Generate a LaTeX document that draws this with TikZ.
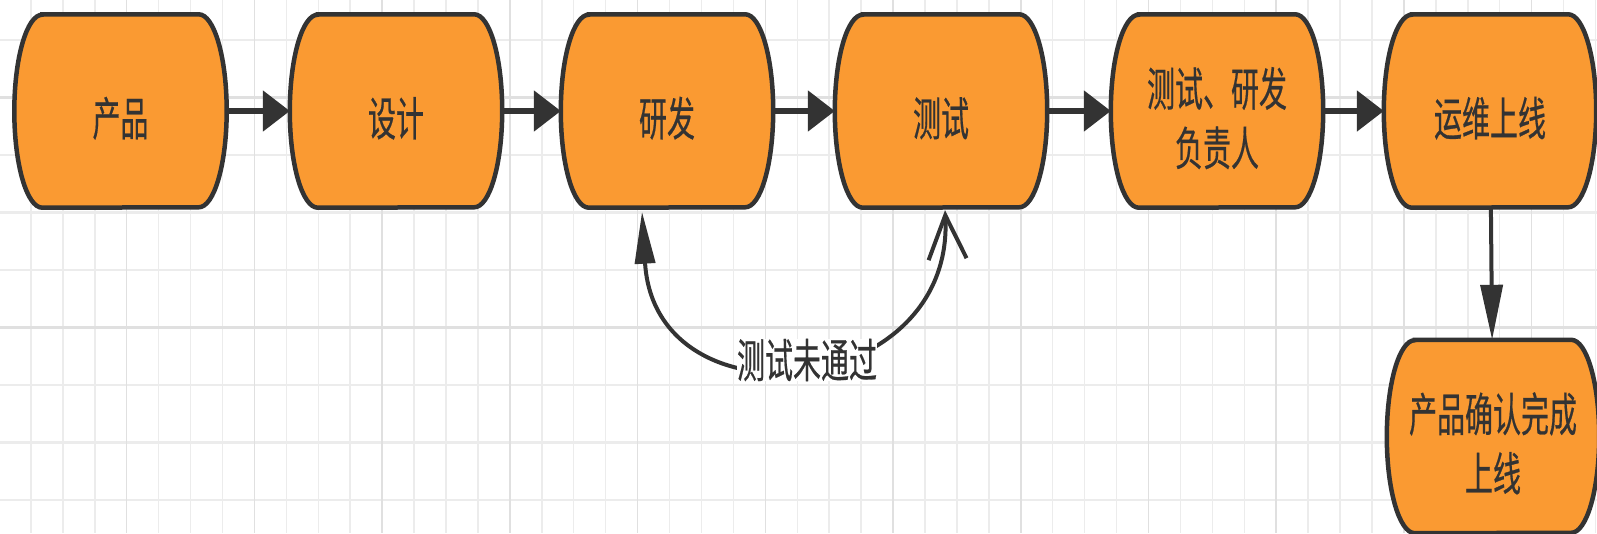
\documentclass[tikz,border=0pt]{standalone}
\usepackage{fontspec}
\usepackage{graphicx}
\usetikzlibrary{arrows.meta,calc,backgrounds}
\newfontfamily\cjk[FakeBold=0.6]{Noto Sans CJK SC}
\definecolor{boxorange}{HTML}{FA9A32}
\definecolor{boxedge}{HTML}{333333}
\definecolor{gridminor}{HTML}{ECECEC}
\definecolor{gridmajor}{HTML}{E0E0E0}
\newcommand{\boxtext}[1]{\scalebox{1}[1.65]{\raisebox{-14pt}[0pt][0pt]{\begin{tabular}{@{}c@{}}#1\end{tabular}}}}

\begin{document}
\begin{tikzpicture}[x=1pt, y=-1pt,
        stepbox/.style={fill=boxorange, draw=boxedge, line width=4.5pt},
        flowarrow/.style={draw=boxedge, line width=5.5pt, -{Triangle[length=27pt,width=40pt]}},
        downarrow/.style={draw=boxedge, line width=4pt, -{Triangle[length=55pt,width=22pt]}},
        backloop/.style={draw=boxedge, line width=4pt, {Triangle[length=52pt,width=20pt]}-{Straight Barb[length=44pt,width=38pt]}},
        vgrid/.style={draw=gridminor, line width=1.5pt},
        hgrid/.style={draw=gridminor, line width=2.5pt}]
        \useasboundingbox (0,0) rectangle (1597,533);
        \begin{scope}[every node/.style={font=\cjk\fontsize{28}{36}\selectfont, text=boxedge, minimum width=212pt, minimum height=193pt, inner sep=0pt}]
                \node (cp) at (120.5,111) {\boxtext{产品}};
                \node (sj) at (396,111) {\boxtext{设计}};
                \node (yf) at (667,111) {\boxtext{研发}};
                \node (cs) at (941,111) {\boxtext{测试}};
                \node (fz) at (1217,111) {\boxtext{测试、研发\\负责人}};
                \node (yw) at (1490,111) {\boxtext{运维上线}};
                \node (qr) at (1493,436.5) {\boxtext{产品确认完成\\上线}};
        \end{scope}
        \begin{scope}[on background layer]
                \fill[white] (0,0) rectangle (1597,533);
                \foreach \i in {0,...,50}
                        \draw[vgrid] ({31.93*\i-1},0) -- ({31.93*\i-1},533);
                \foreach \j in {0,...,8}
                        \draw[hgrid] (0,{40+57.5*\j}) -- (1597,{40+57.5*\j});
                \foreach \i in {0,4,...,48}
                        \draw[vgrid, draw=gridmajor] ({31.93*\i-1},0) -- ({31.93*\i-1},533);
                \foreach \j in {1,5}
                        \draw[hgrid, draw=gridmajor] (0,{40+57.5*\j}) -- (1597,{40+57.5*\j});
                \foreach \n in {cp,sj,yf,cs,fz,yw,qr}
                        \draw[stepbox] ($(\n.north west)+(28,0)$) -- ($(\n.north east)+(-28,0)$)
                                arc[start angle=90, end angle=-90, x radius=28pt, y radius=96.5pt]
                                -- ($(\n.south west)+(28,0)$)
                                arc[start angle=270, end angle=90, x radius=28pt, y radius=96.5pt] -- cycle;
        \end{scope}
        \draw[flowarrow] (cp) -- (sj);
        \draw[flowarrow] (sj) -- (yf);
        \draw[flowarrow] (yf) -- (cs);
        \draw[flowarrow] (cs) -- (fz);
        \draw[flowarrow] (fz) -- (yw);
        \draw[downarrow] (yw) -- (qr);
        \draw[backloop] ($(yf.south)+(-25,4)$) .. controls (655,430) and (955,400) .. ($(cs.south)+(4,2.5)$);
        \node[fill=white, inner sep=0pt, font=\cjk\fontsize{28}{36}\selectfont, text=boxedge] (lbl) at (807,360) {\scalebox{1}[1.65]{测试未通过}};
\end{tikzpicture}
\end{document}
